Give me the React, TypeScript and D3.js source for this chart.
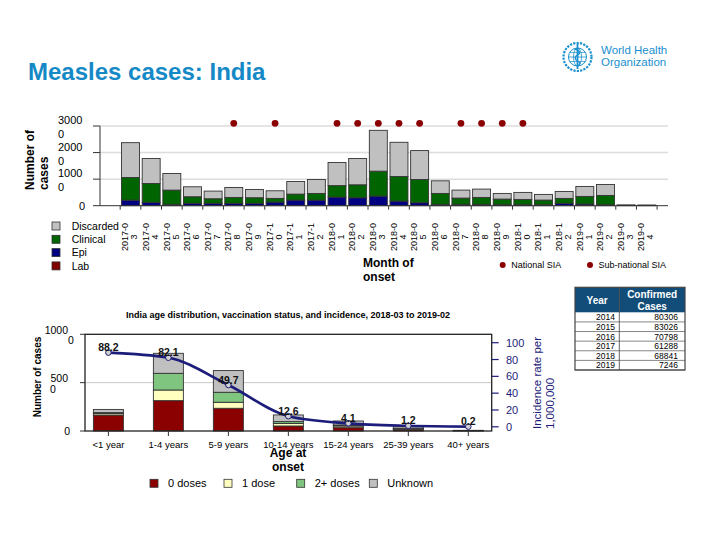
import React from 'react';
import * as d3 from 'd3';

// ---------- Top chart data ----------
const months = [
  '2017-03', '2017-04', '2017-05', '2017-06', '2017-07', '2017-08', '2017-09', '2017-10', '2017-11', '2017-12',
  '2018-01', '2018-02', '2018-03', '2018-04', '2018-05', '2018-06', '2018-07', '2018-08', '2018-09', '2018-10',
  '2018-11', '2018-12', '2019-01', '2019-02', '2019-03', '2019-04',
];
const labCases = [0, 0, 0, 0, 0, 0, 0, 0, 0, 0, 0, 0, 0, 0, 0, 0, 0, 0, 0, 0, 0, 0, 0, 0, 0, 0];
const epiCases = [2100, 1250, 500, 870, 870, 870, 870, 1370, 2120, 2120, 3250, 3000, 3620, 1750, 1120, 500, 500, 500, 370, 370, 370, 870, 620, 370, 50, 50];
const clinicalCases = [8500, 7120, 5370, 2500, 1750, 2250, 2130, 1380, 2250, 2500, 4310, 4870, 9380, 9250, 8750, 4120, 2370, 2620, 2130, 2000, 1750, 1880, 2880, 3500, 100, 80];
const discardedCases = [13130, 9380, 6250, 3750, 2880, 3750, 3120, 2870, 4750, 5250, 8690, 9880, 15370, 12870, 10880, 4750, 3000, 3130, 2120, 2630, 2130, 2620, 3750, 4130, 150, 120];
const siaMonths = ['2017-08', '2017-10', '2018-01', '2018-02', '2018-03', '2018-04', '2018-05', '2018-07', '2018-08', '2018-09', '2018-10'];
const topTicks = [0, 10000, 20000, 30000];
const topLegend = ['Discarded', 'Clinical', 'Epi', 'Lab'];
const siaLegend = ['National SIA', 'Sub-national SIA'];

// ---------- Bottom chart data ----------
const ageGroups = ['<1 year', '1-4 years', '5-9 years', '10-14 years', '15-24 years', '25-39 years', '40+ years'];
const dose0 = [1650, 3140, 2350, 520, 345, 170, 30];
const dose1 = [150, 1100, 620, 250, 170, 60, 10];
const dose2 = [100, 1725, 1035, 200, 105, 50, 10];
const doseUnknown = [330, 2070, 2245, 690, 415, 170, 20];
const incidence = [88.2, 82.1, 49.7, 12.6, 4.1, 1.2, 0.2];
const countTicks = [0, 5000, 10000];
const rateTicks = [0, 20, 40, 60, 80, 100];
const doseLegend = ['0 doses', '1 dose', '2+ doses', 'Unknown'];

// ---------- Table data ----------
const tableYears = ['2014', '2015', '2016', '2017', '2018', '2019'];
const tableCases = [80306, 83026, 70798, 61288, 68841, 7246];

const FONT = '"Liberation Sans", Arial, Helvetica, sans-serif';
const NAVY = '#1c1c7a';

export default function App() {
  // ---- top chart scales
  const rows = months.map((m, i) => ({
    month: m, lab: labCases[i], epi: epiCases[i], clinical: clinicalCases[i], discarded: discardedCases[i],
  }));
  const topKeys = ['lab', 'epi', 'clinical', 'discarded'];
  const topColors: Record<string, string> = { lab: '#800000', epi: '#000080', clinical: '#006400', discarded: '#c0c0c0' };
  const topSeries = d3.stack<any>().keys(topKeys)(rows);
  const xTop = d3.scaleBand<string>().domain(months).range([120.2, 657.1]).paddingInner(0.13).paddingOuter(0.065);
  const yTop = d3.scaleLinear().domain([0, 30000]).range([205.7, 126]);
  const plotLeft = 100;
  const plotRight = 668;
  const gap = (xTop.step() - xTop.bandwidth()) / 2;
  const boundaries = months.map((m) => (xTop(m) as number) - gap).concat([(xTop(months[months.length - 1]) as number) + xTop.bandwidth() + gap]);
  const siaY = yTop(31000);

  // ---- bottom chart scales
  const ageRows = ageGroups.map((a, i) => ({ age: a, d0: dose0[i], d1: dose1[i], d2: dose2[i], unk: doseUnknown[i] }));
  const ageKeys = ['d0', 'd1', 'd2', 'unk'];
  const ageColors: Record<string, string> = { d0: '#8b0000', d1: '#ffffc0', d2: '#7fc47f', unk: '#c0c0c0' };
  const ageSeries = d3.stack<any>().keys(ageKeys)(ageRows);
  const boxL = 85, boxR = 491.7, boxT = 334.3, boxB = 431;
  const xAge = d3.scaleBand<string>().domain(ageGroups).range([boxL, boxR]).paddingInner(0.5).paddingOuter(0.14);
  const yCount = d3.scaleLinear().domain([0, 10000]).range([boxB, boxT]);
  const yRate = d3.scaleLinear().domain([-5, 110]).range([boxB, boxT]);
  const ageCx = (a: string) => (xAge(a) as number) + xAge.bandwidth() / 2;
  const ratePath = d3.line<number>()
    .x((_, i) => ageCx(ageGroups[i]))
    .y((d) => yRate(d))
    .curve(d3.curveMonotoneX)(incidence) as string;

  // ---- table scales
  const tL = 575, tM = 619.3, tR = 685, tHeadT = 287.3, tHeadB = 312.3, tB = 370;
  const yRow = d3.scaleBand<string>().domain(tableYears).range([tHeadB, tB]);

  // axis labels wrap their last digit onto a second line (as in the reference)
  const wrapTick = (s: string) => (s.length > 1 ? [s.slice(0, -1), s.slice(-1)] : [s]);
  const split = (s: string, n: number) => (s.length > n ? [s.slice(0, n), s.slice(n)] : [s]);

  return (
    <svg width={720} height={540} style={{ position: 'absolute', left: 0, top: 0, background: '#fff' }} fontFamily={FONT}>
      <rect x={0} y={0} width={720} height={540} fill="#fff" />

      {/* Title */}
      <text x={28} y={80} fontSize={24} fontWeight="bold" fill="#1589c6">Measles cases: India</text>

      {/* WHO logo */}
      <g transform="translate(577.5,57)" fill="none" stroke="#1a8fce">
        <circle r={14} strokeWidth={2.2} strokeDasharray="2.2 1.2" />
        <circle r={9} strokeWidth={1} />
        <ellipse rx={4} ry={9} strokeWidth={0.8} />
        <line x1={-9} y1={0} x2={9} y2={0} strokeWidth={0.8} />
        <line x1={-8} y1={-4.5} x2={8} y2={-4.5} strokeWidth={0.7} />
        <line x1={-8} y1={4.5} x2={8} y2={4.5} strokeWidth={0.7} />
        <line x1={0} y1={-13} x2={0} y2={12} strokeWidth={1.8} />
        <path d="M-3,-8 C3,-7 3,-3 0,-2 C-3,-1 -3,3 0,4 C3,5 3,8 0,9" strokeWidth={1.3} />
      </g>
      <text x={601} y={53.5} fontSize={11.5} fill="#1a8fce">World Health</text>
      <text x={601} y={66} fontSize={11.5} fill="#1a8fce">Organization</text>

      {/* ===== Top chart ===== */}
      {topTicks.filter((t) => t > 0).map((t) => (
        <line key={'g' + t} x1={plotLeft} x2={plotRight} y1={yTop(t)} y2={yTop(t)} stroke="#dcdcdc" strokeWidth={1.5} />
      ))}
      {topSeries.map((s) => (
        <g key={s.key} fill={topColors[s.key]}>
          {s.map((d, i) => (
            <rect key={i} x={xTop(months[i])} width={xTop.bandwidth()} y={yTop(d[1])} height={Math.max(0, yTop(d[0]) - yTop(d[1]))}
              stroke="#333" strokeWidth={0.9} />
          ))}
        </g>
      ))}
      <line x1={plotLeft} x2={plotLeft} y1={yTop(0)} y2={yTop(30000)} stroke="#333" strokeWidth={1} />
      <line x1={plotLeft} x2={plotRight} y1={yTop(0)} y2={yTop(0)} stroke="#333" strokeWidth={1} />
      {topTicks.map((t) => {
        const lines = wrapTick(String(t));
        return (
          <g key={'t' + t} fontSize={11} fill="#000">
            <line x1={93} x2={plotLeft} y1={yTop(t)} y2={yTop(t)} stroke="#333" />
            {lines.length === 1 ? (
              <text x={85} y={yTop(t) + 4} textAnchor="end">{lines[0]}</text>
            ) : (
              <>
                <text x={58} y={yTop(t) - 2}>{lines[0]}</text>
                <text x={58} y={yTop(t) + 12}>{lines[1]}</text>
              </>
            )}
          </g>
        );
      })}
      {boundaries.map((b, i) => (
        <line key={'b' + i} x1={b} x2={b} y1={yTop(0)} y2={yTop(0) + 4} stroke="#333" />
      ))}
      {months.map((m) => {
        const c = (xTop(m) as number) + xTop.bandwidth() / 2;
        const [l1, l2] = split(m, 6);
        return (
          <g key={'ml' + m} transform={`translate(${c},237) rotate(-90)`} fontSize={9} fill="#000" textAnchor="middle">
            <text y={-2.3}>{l1}</text>
            <text y={6.7}>{l2}</text>
          </g>
        );
      })}
      {siaMonths.map((m) => (
        <circle key={'s' + m} cx={(xTop(m) as number) + xTop.bandwidth() / 2} cy={siaY} r={3.4} fill="#8b0000" />
      ))}
      {/* y title */}
      <g transform="translate(0,190) rotate(-90)" fontSize={12} fontWeight="bold" fill="#000">
        <text x={0} y={33.5}>Number of</text>
        <text x={0} y={47.5}>cases</text>
      </g>
      <text x={363} y={267} fontSize={12} fontWeight="bold">Month of</text>
      <text x={363} y={281} fontSize={12} fontWeight="bold">onset</text>
      {/* top legend */}
      {topLegend.map((l, i) => {
        const key = ['discarded', 'clinical', 'epi', 'lab'][i];
        const cy = 226 + i * 13.3;
        return (
          <g key={'tl' + l}>
            <rect x={52} y={cy - 4} width={8} height={8} fill={topColors[key]} stroke="#333" strokeWidth={0.8} />
            <text x={71.7} y={cy + 3.8} fontSize={10.5}>{l}</text>
          </g>
        );
      })}
      {siaLegend.map((l, i) => {
        const x = [502.7, 590][i];
        return (
          <g key={'sl' + l}>
            <circle cx={x} cy={265} r={3} fill="#8b0000" />
            <text x={x + 8.5} y={268.3} fontSize={9}>{l}</text>
          </g>
        );
      })}

      {/* ===== Bottom chart ===== */}
      <text x={288} y={318} fontSize={9} fontWeight="bold" textAnchor="middle">
        India age distribution, vaccination status, and incidence, 2018-03 to 2019-02
      </text>
      <line x1={boxL} x2={boxR} y1={yCount(5000)} y2={yCount(5000)} stroke="#c8c8c8" strokeWidth={1} />
      {ageSeries.map((s) => (
        <g key={s.key} fill={ageColors[s.key]}>
          {s.map((d, i) => (
            <rect key={i} x={xAge(ageGroups[i])} width={xAge.bandwidth()} y={yCount(d[1])} height={Math.max(0, yCount(d[0]) - yCount(d[1]))}
              stroke="#333" strokeWidth={0.9} />
          ))}
        </g>
      ))}
      <rect x={boxL} y={boxT} width={boxR - boxL} height={boxB - boxT} fill="none" stroke="#222" strokeWidth={1.3} />
      {countTicks.map((t, i) => {
        const lines = wrapTick(String(t));
        const y = yCount(t);
        return (
          <g key={'ct' + t} fontSize={10.5}>
            <line x1={80} x2={boxL} y1={y} y2={y} stroke="#333" />
            {lines.length === 1 ? (
              <text x={70} y={y + 3.5} textAnchor="end">{lines[0]}</text>
            ) : (
              <>
                <text x={68} y={y - 0.5} textAnchor="end">{lines[0]}</text>
                <text x={i === countTicks.length - 1 ? 68 : 50} y={y + 10}>{lines[1]}</text>
              </>
            )}
          </g>
        );
      })}
      {rateTicks.map((t) => (
        <g key={'rt' + t}>
          <line x1={boxR} x2={boxR + 7} y1={yRate(t)} y2={yRate(t)} stroke={NAVY} strokeWidth={1.2} />
          <text x={506} y={yRate(t) + 4} fontSize={11} fill={NAVY}>{t}</text>
        </g>
      ))}
      {ageGroups.map((a) => (
        <g key={'xa' + a}>
          <line x1={ageCx(a)} x2={ageCx(a)} y1={boxB} y2={boxB + 5} stroke="#333" />
          <text x={ageCx(a)} y={448} fontSize={9.5} textAnchor="middle">{a}</text>
        </g>
      ))}
      <path d={ratePath} fill="none" stroke={NAVY} strokeWidth={2.6} />
      {incidence.map((v, i) => (
        <g key={'pt' + i}>
          <circle cx={ageCx(ageGroups[i])} cy={yRate(v)} r={2.8} fill="#d0d0d0" stroke={NAVY} strokeWidth={1} />
          <text x={ageCx(ageGroups[i])} y={yRate(v) - 1.5} fontSize={10.5} fontWeight="bold" textAnchor="middle" fill="#111">{v}</text>
        </g>
      ))}
      <g transform="translate(0,377) rotate(-90)">
        <text x={0} y={40.5} fontSize={10} fontWeight="bold" textAnchor="middle">Number of cases</text>
      </g>
      <g transform="translate(0,429) rotate(-90)" fontSize={11.5} fill={NAVY}>
        <text x={0} y={540.8}>Incidence rate per</text>
        <text x={0} y={554}>1,000,000</text>
      </g>
      <text x={288} y={457} fontSize={12} fontWeight="bold" textAnchor="middle">Age at</text>
      <text x={288} y={471} fontSize={12} fontWeight="bold" textAnchor="middle">onset</text>
      {doseLegend.map((l, i) => {
        const x = [150, 224, 296.7, 369.3][i];
        return (
          <g key={'dl' + l}>
            <rect x={x} y={479.3} width={8} height={8} fill={ageColors[ageKeys[i]]} stroke="#333" strokeWidth={0.8} />
            <text x={x + 18} y={487.3} fontSize={11}>{l}</text>
          </g>
        );
      })}

      {/* ===== Table ===== */}
      <rect x={tL} y={tHeadT} width={tR - tL} height={tHeadB - tHeadT} fill="#124d79" />
      <text x={(tL + tM) / 2} y={304} fontSize={10} fontWeight="bold" fill="#fff" textAnchor="middle">Year</text>
      <text x={(tM + tR) / 2} y={298} fontSize={10} fontWeight="bold" fill="#fff" textAnchor="middle">Confirmed</text>
      <text x={(tM + tR) / 2} y={310} fontSize={10} fontWeight="bold" fill="#fff" textAnchor="middle">Cases</text>
      {tableYears.map((y, i) => (
        <g key={'row' + y}>
          <line x1={tL} x2={tR} y1={(yRow(y) as number) + yRow.bandwidth()} y2={(yRow(y) as number) + yRow.bandwidth()} stroke="#666" strokeWidth={0.8} />
          <text x={615} y={(yRow(y) as number) + 8} fontSize={8.5} textAnchor="end">{y}</text>
          <text x={678} y={(yRow(y) as number) + 8} fontSize={8.5} textAnchor="end">{tableCases[i]}</text>
        </g>
      ))}
      <line x1={tM} x2={tM} y1={tHeadT} y2={tB} stroke="#555" strokeWidth={0.9} />
      <rect x={tL} y={tHeadT} width={tR - tL} height={tB - tHeadT} fill="none" stroke="#444" strokeWidth={1.2} />
    </svg>
  );
}
